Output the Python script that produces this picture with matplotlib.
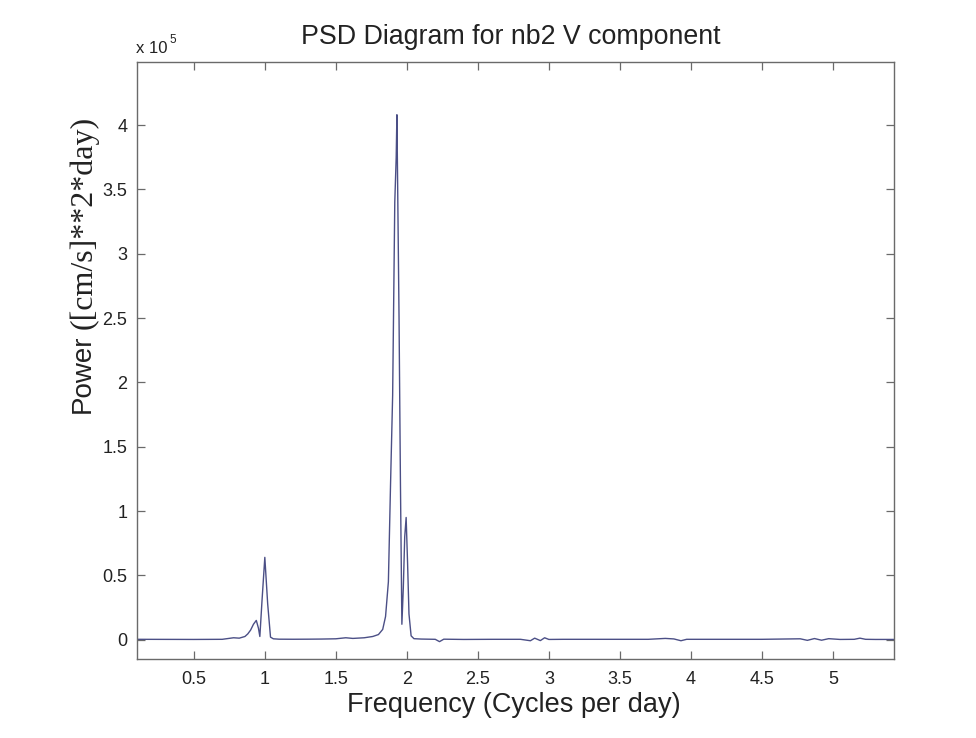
import matplotlib
matplotlib.use("Agg")
import matplotlib.pyplot as plt
from matplotlib.ticker import FuncFormatter

# Frequency (cycles per day) and power ([cm/s]**2*day)
freq = [0.10, 0.30, 0.50, 0.60, 0.70, 0.74, 0.78, 0.82, 0.86, 0.88, 0.90, 0.92,
        0.94, 0.955, 0.965, 0.98, 1.00, 1.02, 1.04, 1.06, 1.10, 1.20, 1.30,
        1.40, 1.50, 1.57, 1.62, 1.70, 1.76, 1.80, 1.83, 1.85, 1.87, 1.885,
        1.90, 1.915, 1.925, 1.93, 1.945, 1.955, 1.965, 1.975, 1.985, 1.995,
        2.005, 2.015, 2.03, 2.05, 2.10, 2.20, 2.23, 2.26, 2.40, 2.60, 2.80,
        2.87, 2.90, 2.94, 2.97, 3.00, 3.10, 3.40, 3.70, 3.82, 3.88, 3.93,
        3.97, 4.20, 4.50, 4.77, 4.82, 4.87, 4.92, 4.97, 5.05, 5.15, 5.19,
        5.23, 5.30, 5.43]
power = [300, 250, 200, 250, 300, 900, 1500, 1200, 2500, 4500, 7500, 12000,
         15000, 9000, 2500, 30000, 64000, 28000, 2000, 700, 400, 350, 400,
         500, 700, 1500, 1000, 1500, 2500, 4000, 8000, 18000, 45000, 120000,
         190000, 340000, 375000, 408000, 250000, 120000, 12000, 40000, 80000,
         95000, 60000, 20000, 3000, 800, 500, 300, -1500, 400, 200, 300, 300,
         -800, 1200, -700, 1500, 200, 300, 300, 300, 1000, 600, -800, 300,
         300, 300, 700, -500, 900, -400, 800, 200, 300, 1200, 300, 200, 200]

title_text = "PSD Diagram for nb2 V component"
xlabel_text = "Frequency (Cycles per day)"
ylabel_sans = "Power"
ylabel_serif = "([cm/s]**2*day)"
xticks = [0.5, 1, 1.5, 2, 2.5, 3, 3.5, 4, 4.5, 5]
yticks = [0, 50000, 100000, 150000, 200000, 250000, 300000, 350000, 400000]

plt.rcParams['font.family'] = ['Liberation Sans', 'DejaVu Sans']
fig = plt.figure(figsize=(9.76, 7.38), dpi=100)
W, H = 976, 738
ax = fig.add_axes([137 / W, 1 - 659 / H, (894 - 137) / W, (659 - 62) / H])

ax.plot(freq, power, color='#4b4f86', lw=1.0)
ax.set_xlim(0.10, 5.43)
ax.set_ylim(-15000, 449000)
ax.set_xticks(xticks)
ax.set_xticklabels([("%g" % t) for t in xticks])
ax.set_yticks(yticks)
ax.yaxis.set_major_formatter(FuncFormatter(lambda v, p: "%g" % (v / 1e5)))

for s in ax.spines.values():
    s.set_color('#6a6a6a')
    s.set_linewidth(1.0)
ax.tick_params(direction='in', top=True, right=True, length=6, width=0.9,
               color='#6a6a6a', labelsize=13, labelcolor='#222222')
ax.tick_params(axis='x', pad=9)
ax.tick_params(axis='y', pad=7)

fig.text(511 / W, 1 - 37 / H, title_text, fontsize=19.3, color='#222222',
         ha='center', va='center')
fig.text(514 / W, 1 - 705 / H, xlabel_text, fontsize=19.5, color='#222222',
         ha='center', va='center')

# y label: sans "Power" followed by serif units
fig.text(83 / W, 1 - 413 / H, ylabel_sans, rotation=90, fontsize=20,
         color='#222222', ha='center', va='bottom')
fig.text(84 / W, 1 - 329 / H, ylabel_serif, rotation=90, fontsize=23,
         family=['Liberation Serif', 'DejaVu Serif'], color='#222222',
         ha='center', va='bottom')

# exponent label
fig.text(136 / W, 1 - 53 / H, "x 10", fontsize=12, color='#222222',
         ha='left', va='baseline')
fig.text(169 / W, 1 - 43 / H, "5", fontsize=8.5, color='#222222',
         ha='left', va='baseline')

fig.savefig("out.png", dpi=100)
